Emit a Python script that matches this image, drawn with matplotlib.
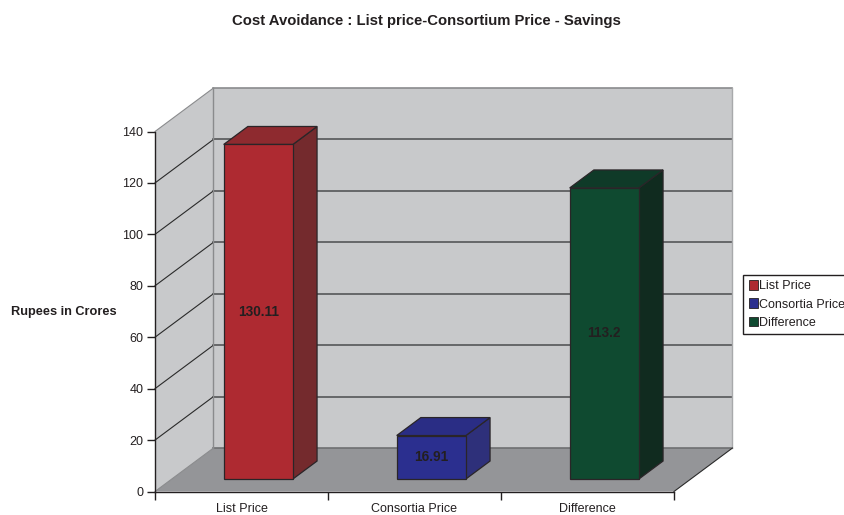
import matplotlib
matplotlib.use("Agg")
import matplotlib.pyplot as plt
from matplotlib.patches import Polygon, Patch

plt.rcParams['font.family'] = ['Liberation Sans', 'DejaVu Sans']

categories = ["List Price", "Consortia Price", "Difference"]
values = [130.11, 16.91, 113.2]
labels = ["130.11", "16.91", "113.2"]
front = ["#AE2A31", "#2B2F8F", "#0F4A30"]
side = ["#742A2D", "#2E307A", "#102B1F"]
top = ["#8E2A2F", "#2A2D85", "#0F3A28"]
yticks = [0, 20, 40, 60, 80, 100, 120, 140]

W, H = 845, 515
fig = plt.figure(figsize=(W/100, H/100), dpi=100, facecolor="white")
ax = fig.add_axes([155/W, 1-491.5/H, 519/W, 360/H])
ax.set_xlim(0, 3)
ax.set_ylim(0, 140)
ax.patch.set_visible(False)

DX = 58.5/173.0      # depth offset in category units
DY = 43.5*140/360.0  # depth offset in value units
def P(x, y, d):
    return (x + d*DX, y + d*DY)
def poly(pts, fc, ec="none", lw=0, z=1):
    ax.add_patch(Polygon(pts, closed=True, fc=fc, ec=ec, lw=lw, zorder=z, clip_on=False, joinstyle="miter"))

# walls and floor
poly([P(0,0,1), P(3,0,1), P(3,140,1), P(0,140,1)], "#C8C9CB", z=1)
poly([P(0,0,0), P(0,0,1), P(0,140,1), P(0,140,0)], "#C8C9CB", z=1)
poly([P(0,0,0), P(3,0,0), P(3,0,1), P(0,0,1)], "#949598", z=1)

# grid
for v in yticks:
    c = "#8A8B8D" if v == 140 else ("#6E6F71" if v == 0 else "#555658")
    a, b = P(0, v, 1), P(3, v, 1)
    ax.plot([a[0], b[0]], [a[1], b[1]], color=c, lw=1.2, zorder=2, clip_on=False)
    a0 = P(0, v, 0)
    c2 = "#8A8B8D" if v in (0, 140) else "#2A2A2A"
    ax.plot([a0[0], a[0]], [a0[1], a[1]], color=c2, lw=0.8, zorder=2, clip_on=False)
a, b = P(0, 0, 1), P(0, 140, 1)
ax.plot([a[0], b[0]], [a[1], b[1]], color="#8A8B8D", lw=1, zorder=2, clip_on=False)
a, b = P(3, 0, 1), P(3, 140, 1)
ax.plot([a[0], b[0]], [a[1], b[1]], color="#A8A9AB", lw=1, zorder=2, clip_on=False)
a, b = P(3, 0, 0), P(3, 0, 1)
ax.plot([a[0], b[0]], [a[1], b[1]], color="#2A2A2A", lw=0.8, zorder=2, clip_on=False)

# bars
d0, d1 = 0.287, 0.70
bw = 0.4
edge = "#2A2528"
for i, v in enumerate(values):
    l, r = i + 0.3, i + 0.3 + bw
    poly([P(r,0,d0), P(r,0,d1), P(r,v,d1), P(r,v,d0)], side[i], edge, 0.9, z=3)
    poly([P(l,v,d0), P(r,v,d0), P(r,v,d1), P(l,v,d1)], top[i], edge, 0.9, z=3)
    poly([P(l,0,d0), P(r,0,d0), P(r,v,d0), P(l,v,d0)], front[i], edge, 0.9, z=4)
    cx, cy = P((l+r)/2, v/2, d0)
    ax.text(cx, cy, labels[i], ha="center", va="center", fontsize=9.8,
            fontweight="bold", color="#231F20", zorder=5)

# axes
for s in ("top", "right"):
    ax.spines[s].set_visible(False)
for s in ("left", "bottom"):
    ax.spines[s].set_color("#231F20")
    ax.spines[s].set_linewidth(1.0)
    ax.spines[s].set_zorder(6)
ax.set_yticks(yticks)
ax.set_xticks([0, 1, 2, 3])
ax.set_xticklabels([])
ax.set_xticks([0.5, 1.5, 2.5], labels=categories, minor=True)
ax.tick_params(axis="y", length=6, width=1, color="#231F20", labelsize=9, labelcolor="#231F20", pad=2.5)
ax.tick_params(axis="x", which="major", length=6, width=1, color="#231F20")
ax.tick_params(axis="x", which="minor", length=0, labelsize=9, labelcolor="#231F20", pad=8)

fig.text(426/W, 1-21.5/H, "Cost Avoidance : List price-Consortium Price - Savings",
         ha="center", va="center", fontsize=10.7, fontweight="bold", color="#231F20")
fig.text(63.5/W, 1-311.5/H, "Rupees in Crores", ha="center", va="center",
         fontsize=9.2, fontweight="bold", color="#231F20")

handles = [Patch(fc=front[i], ec="#231F20", lw=0.6, label=categories[i]) for i in range(3)]
leg = fig.legend(handles=handles, loc="upper left", bbox_to_anchor=(743.5/W, 1-275/H),
                 bbox_transform=fig.transFigure, fontsize=9, frameon=True, fancybox=False,
                 edgecolor="#231F20", framealpha=1, borderpad=0.42, labelspacing=0.48,
                 handlelength=0.75, handleheight=0.8, handletextpad=0.08, borderaxespad=0)
leg.get_frame().set_linewidth(1.0)
for t in leg.get_texts():
    t.set_color("#231F20")

fig.savefig("out.png", dpi=100, facecolor="white")
